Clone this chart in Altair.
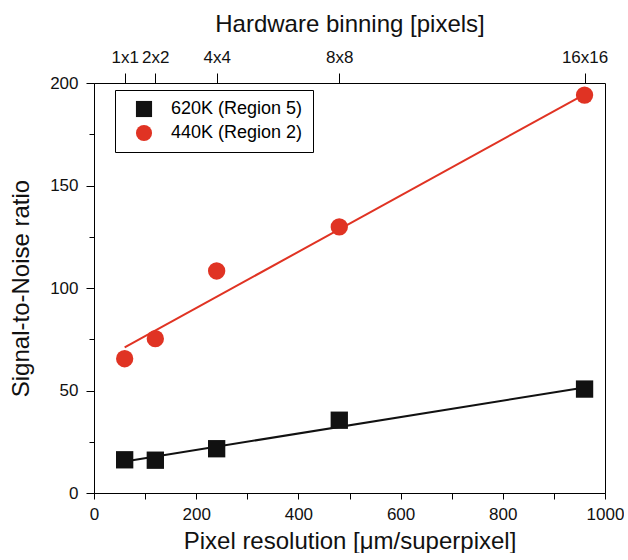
import altair as alt
import pandas as pd

# ---- data ----
resolution = [60, 120, 240, 480, 960]
binning = ["1x1", "2x2", "4x4", "8x8", "16x16"]
snr_620 = [16.2, 16.0, 21.6, 35.5, 50.7]
snr_440 = [65.5, 75.3, 108.3, 129.8, 194.1]
fit_x = [60, 960]
fit_620 = [15.4, 51.5]
fit_440 = [71.0, 194.5]

series = ["620K (Region 5)", "440K (Region 2)"]
colors = ["#111111", "#e03323"]
shapes = ["square", "circle"]

pts = pd.DataFrame(
    {
        "x": resolution * 2,
        "y": snr_620 + snr_440,
        "series": [series[0]] * 5 + [series[1]] * 5,
    }
)
fits = pd.DataFrame(
    {
        "x": fit_x * 2,
        "y": fit_620 + fit_440,
        "series": [series[0]] * 2 + [series[1]] * 2,
    }
)
top = pd.DataFrame({"x": resolution, "lab": binning})

FONT = "Liberation Sans"
xscale = alt.Scale(domain=[0, 1000], nice=False)
yscale = alt.Scale(domain=[0, 200], nice=False)
cscale = alt.Scale(domain=series, range=colors)
sscale = alt.Scale(domain=series, range=shapes)

label_expr_top = ""
for v, l in zip(resolution, binning):
    label_expr_top += f"datum.value == {v} ? '{l}' : "
label_expr_top += "''"

bottom_axis = alt.Axis(
    orient="bottom",
    title="Pixel resolution [\u03bcm/superpixel]",
    values=list(range(0, 1001, 100)),
    format="d",
    labelExpr="datum.value % 200 == 0 ? datum.label : ''",
    grid=False,
    tickSize=6,
    labelFontSize=17,
    titleFontSize=24,
    titleFontWeight="normal",
    labelPadding=7,
    titlePadding=7,
    labelFlush=False,
)
left_axis = alt.Axis(
    title="Signal-to-Noise ratio",
    values=list(range(0, 201, 25)),
    labelExpr="datum.value % 50 == 0 ? datum.label : ''",
    grid=False,
    tickSize={"condition": {"test": "datum.value % 50 == 0", "value": 8}, "value": 5},
    labelFontSize=17,
    titleFontSize=24,
    titleFontWeight="normal",
    labelPadding=8,
    titlePadding=16,
)
top_axis = alt.Axis(
    orient="top",
    title="Hardware binning [pixels]",
    values=resolution,
    labelExpr=label_expr_top,
    grid=False,
    tickSize=10,
    labelFontSize=17,
    titleFontSize=24,
    titleFontWeight="normal",
    labelPadding=7,
    titlePadding=12,
    labelFlush=False,
    domain=False,
)

leg = alt.Legend(
    title=None,
    orient="none",
    legendX=21,
    legendY=7,
    labelFontSize=18,
    labelFont=FONT,
    symbolSize=260,
    strokeColor="black",
    padding=10,
    rowPadding=6,
    symbolOffset=10,
    labelOffset=18,
    symbolStrokeWidth=0,
    labelLimit=300,
)

lines = (
    alt.Chart(fits)
    .mark_line(strokeWidth=2)
    .encode(
        x=alt.X("x:Q", scale=xscale, axis=bottom_axis),
        y=alt.Y("y:Q", scale=yscale, axis=left_axis),
        color=alt.Color("series:N", scale=cscale, legend=leg),
        detail="series:N",
    )
)

points = (
    alt.Chart(pts)
    .mark_point(filled=True, opacity=1, size=300)
    .encode(
        x=alt.X("x:Q", scale=xscale, axis=None),
        y=alt.Y("y:Q", scale=yscale, axis=left_axis),
        color=alt.Color("series:N", scale=cscale, legend=leg),
        shape=alt.Shape("series:N", scale=sscale, legend=leg),
    )
)

toplayer = (
    alt.Chart(top)
    .mark_point(opacity=0)
    .encode(
        x=alt.X("x:Q", scale=xscale, axis=top_axis),
        y=alt.value(0),
    )
)

chart = (
    alt.layer(lines, points, toplayer)
    .resolve_axis(x="independent")
    .properties(
        width=511,
        height=410,
        background="white",
        padding={"left": 9, "top": 12, "right": 0, "bottom": 0},
    )
    .configure_axis(
        labelFont=FONT,
        titleFont=FONT,
        domainColor="black",
        tickColor="black",
        labelColor="#111111",
        titleColor="#111111",
    )
    .configure_view(stroke="black", strokeWidth=1)
)

chart.save("out.html", embed_options={"renderer": "svg", "actions": False})
